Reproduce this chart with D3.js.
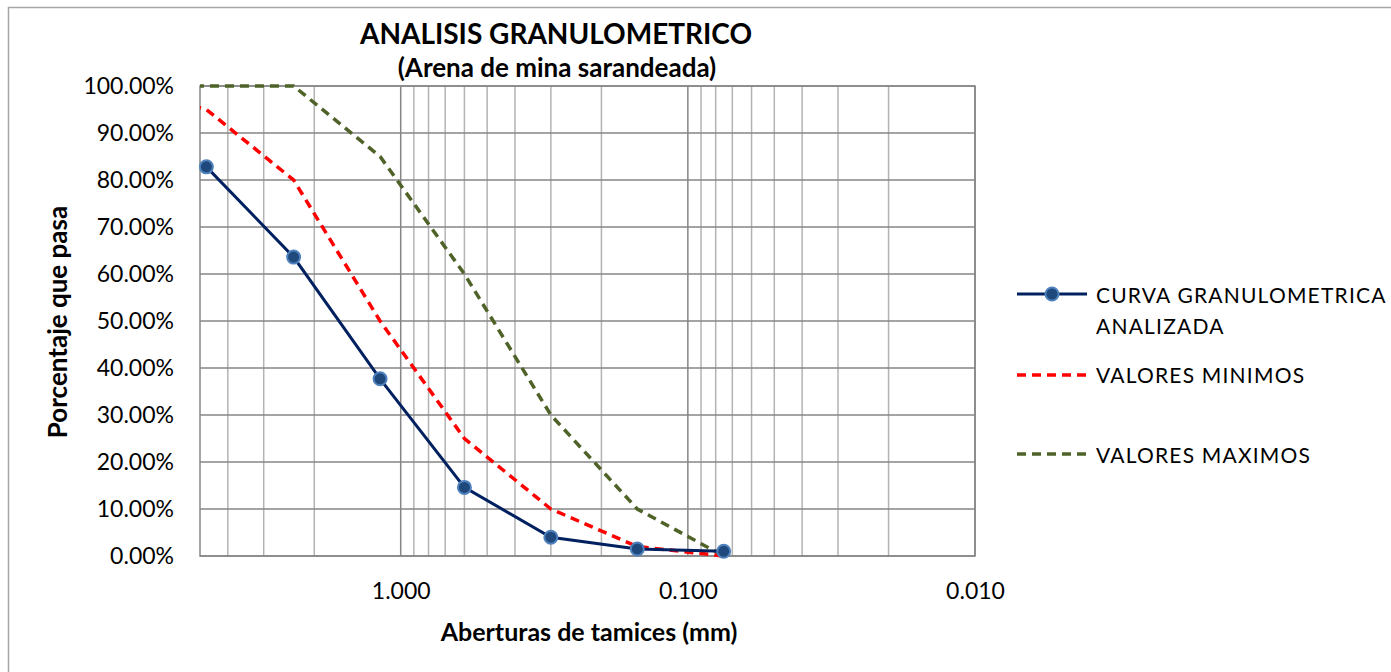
<!DOCTYPE html>
<html><head><meta charset="utf-8">
<script src="https://cdn.jsdelivr.net/npm/d3@7"></script>
<style>body{margin:0;background:#fff;} svg{display:block;font-family:Lato,"Open Sans",sans-serif;}</style>
</head><body>
<svg id="c" width="1391" height="672"></svg>
<script>
const sieves = [4.75, 2.36, 1.18, 0.6, 0.3, 0.15, 0.075];
const curva = [82.8, 63.6, 37.7, 14.6, 4.0, 1.5, 1.0];
const limSieves = [9.5, 4.75, 2.36, 1.18, 0.6, 0.3, 0.15, 0.075];
const minimos = [100, 95, 80, 50, 25, 10, 2, 0];
const maximos = [100, 100, 100, 85, 60, 30, 10, 0];
const yTicks = [0,10,20,30,40,50,60,70,80,90,100];
const xMajor = [1, 0.1, 0.01];
const xMinor = [4,3,2,0.9,0.8,0.7,0.6,0.5,0.4,0.3,0.2,0.09,0.08,0.07,0.06,0.05,0.04,0.03,0.02];
const seriesNames = ["CURVA GRANULOMETRICA", "VALORES MINIMOS", "VALORES MAXIMOS"];

const svg = d3.select("#c");
const L=200, R=975, T=86, B=556;
const x = d3.scaleLog().domain([5, 0.01]).range([L, R]);
const y = d3.scaleLinear().domain([0, 100]).range([B, T]);

// outer border
svg.append("path").attr("d","M8.5,672 L8.5,7.5 L1391,7.5").attr("fill","none").attr("stroke","#a6a6a6").attr("stroke-width",1.5);

const g = svg.append("g");
g.selectAll(".mn").data(xMinor).join("line")
 .attr("x1",d=>x(d)).attr("x2",d=>x(d)).attr("y1",T).attr("y2",B)
 .attr("stroke","#b3b3b3").attr("stroke-width",1.5);
g.selectAll(".hz").data(yTicks).join("line")
 .attr("x1",L).attr("x2",R).attr("y1",d=>y(d)).attr("y2",d=>y(d))
 .attr("stroke","#868686").attr("stroke-width",1.5);
g.selectAll(".mj").data(xMajor).join("line")
 .attr("x1",d=>x(d)).attr("x2",d=>x(d)).attr("y1",T).attr("y2",B)
 .attr("stroke","#868686").attr("stroke-width",1.5);
g.append("rect").attr("x",L).attr("y",T).attr("width",R-L).attr("height",B-T)
 .attr("fill","none").attr("stroke","#868686").attr("stroke-width",1.5);

// y axis labels
const yAxis = d3.axisLeft(y).tickValues(yTicks).tickFormat(d=>d.toFixed(2)+"%").tickSize(0).tickPadding(26);
const ya = svg.append("g").attr("transform",`translate(${L},0)`).call(yAxis);
ya.select(".domain").remove();
ya.selectAll("text").attr("font-size",23).attr("font-family","Lato,sans-serif").attr("fill","#000");

// x axis labels
const xAxis = d3.axisBottom(x).tickValues(xMajor).tickFormat(d3.format(".3f")).tickSize(0).tickPadding(27);
const xa = svg.append("g").attr("transform",`translate(0,${B})`).call(xAxis);
xa.select(".domain").remove();
xa.selectAll("text").attr("font-size",23).attr("font-family","Lato,sans-serif").attr("fill","#000");

// clip
svg.append("clipPath").attr("id","clip").append("rect").attr("x",L).attr("y",T-3).attr("width",R-L).attr("height",B-T+6);

const line = d3.line().x(d=>x(d[0])).y(d=>y(d[1]));
const pg = svg.append("g").attr("clip-path","url(#clip)");
pg.append("path").datum(limSieves.map((s,i)=>[s,maximos[i]])).attr("d",line)
 .attr("fill","none").attr("stroke","#4f6228").attr("stroke-width",3.5).attr("stroke-dasharray","9,6");
pg.append("path").datum(limSieves.map((s,i)=>[s,minimos[i]])).attr("d",line)
 .attr("fill","none").attr("stroke","#ff0000").attr("stroke-width",3.5).attr("stroke-dasharray","9,6");
const cd = sieves.map((s,i)=>[s,curva[i]]);
svg.append("path").datum(cd).attr("d",line)
 .attr("fill","none").attr("stroke","#002060").attr("stroke-width",3);
svg.selectAll(".pt").data(cd).join("circle")
 .attr("cx",d=>x(d[0])).attr("cy",d=>y(d[1])).attr("r",6.5)
 .attr("fill","#1f497d").attr("stroke","#4f81bd").attr("stroke-width",2);

// titles
svg.append("text").attr("x",556).attr("y",44).attr("text-anchor","middle")
 .attr("font-size",28).attr("font-weight","bold").text("ANALISIS GRANULOMETRICO");
svg.append("text").attr("x",557).attr("y",77).attr("text-anchor","middle")
 .attr("font-size",26).attr("font-weight","bold").text("(Arena de mina sarandeada)");
svg.append("text").attr("x",589).attr("y",641).attr("text-anchor","middle")
 .attr("font-size",25).attr("font-weight","bold").text("Aberturas de tamices (mm)");
svg.append("text").attr("transform","translate(67,322) rotate(-90)").attr("text-anchor","middle")
 .attr("font-size",26).attr("font-weight","bold").text("Porcentaje que pasa");

// legend
const lg = svg.append("g");
const lx1=1017, lx2=1087, tx=1096;
const lfs = 21, lls = 1.2;
lg.append("line").attr("x1",lx1).attr("x2",lx2).attr("y1",294).attr("y2",294).attr("stroke","#002060").attr("stroke-width",3);
lg.append("circle").attr("cx",1052).attr("cy",294).attr("r",6.5).attr("fill","#1f497d").attr("stroke","#4f81bd").attr("stroke-width",2);
lg.append("text").attr("x",tx).attr("y",303).attr("font-size",lfs).attr("letter-spacing",lls).text(seriesNames[0]);
lg.append("text").attr("x",tx).attr("y",334).attr("font-size",lfs).attr("letter-spacing",lls).text("ANALIZADA");
lg.append("line").attr("x1",lx1).attr("x2",lx2).attr("y1",375).attr("y2",375).attr("stroke","#ff0000").attr("stroke-width",3.5).attr("stroke-dasharray","9,6");
lg.append("text").attr("x",tx).attr("y",383).attr("font-size",lfs).attr("letter-spacing",lls).text(seriesNames[1]);
lg.append("line").attr("x1",lx1).attr("x2",lx2).attr("y1",454).attr("y2",454).attr("stroke","#4f6228").attr("stroke-width",3.5).attr("stroke-dasharray","9,6");
lg.append("text").attr("x",tx).attr("y",463).attr("font-size",lfs).attr("letter-spacing",lls).text(seriesNames[2]);
</script>
</body></html>
